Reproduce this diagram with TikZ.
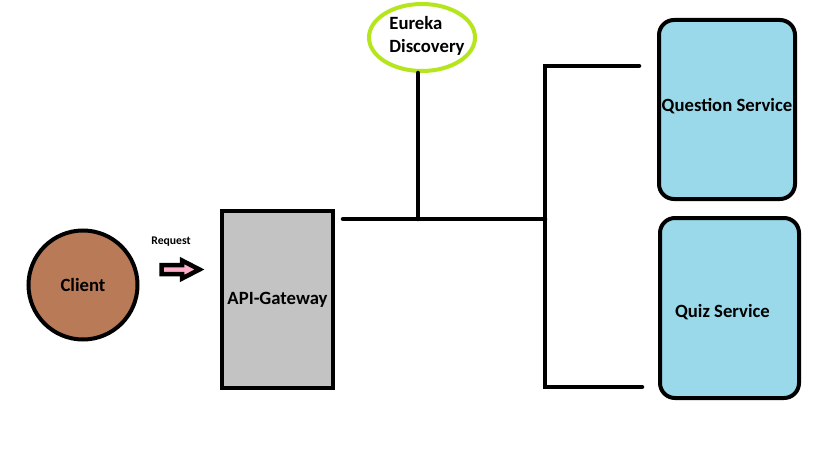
\documentclass[tikz,border=0pt]{standalone}
\usepackage{fontspec}
\setmainfont{Carlito}
\usetikzlibrary{shapes.geometric}
\definecolor{clientbrown}{HTML}{B97A57}
\definecolor{gwgray}{HTML}{C3C3C3}
\definecolor{svcblue}{HTML}{99D9EA}
\definecolor{eurgreen}{HTML}{B5E61D}
\definecolor{reqpink}{HTML}{FFAEC9}
\tikzset{
  lbl/.style={font=\fontsize{18.7}{23}\selectfont\bfseries, text=black},
  svcbox/.style={draw=black, line width=4pt, fill=svcblue, rounded corners=15pt, inner sep=0pt},
  wire/.style={draw=black, line width=4.5pt, line cap=round},
}
\begin{document}
\begin{tikzpicture}[x=1pt,y=-1pt]
\useasboundingbox (0,0) rectangle (819,460);
\fill[white] (0,0) rectangle (819,460);

% nodes
\node[circle, draw=black, line width=4pt, fill=clientbrown, minimum size=109pt, inner sep=0pt, lbl] (client) at (83,285) {Client};
\node[rectangle, draw=black, line width=4pt, fill=gwgray, minimum width=111pt, minimum height=177pt, inner sep=0pt, lbl] (gateway) at (277.5,299.5) {API-Gateway};
\node[ellipse, draw=eurgreen, line width=4pt, minimum width=106pt, minimum height=67pt, inner sep=0pt,
  label={[lbl, align=left, xshift=5pt, yshift=2pt]center:Eureka\\Discovery}] (eureka) at (422,37.5) {};
\node[svcbox, minimum width=136pt, minimum height=179pt,
  label={[lbl, yshift=3pt]center:Question Service}] (question) at (727,109.5) {};
\node[svcbox, minimum width=139pt, minimum height=180pt,
  label={[lbl, xshift=-7pt, yshift=-4pt]center:Quiz Service}] (quiz) at (729.5,308) {};

\node[font=\fontsize{11.7}{14}\selectfont\bfseries, text=black] (reqlbl) at (171,242) {Request};

% request arrow
\draw[black, line width=4.5pt, fill=reqpink, line join=miter]
  (161.5,265) -- (182,265) -- (182,260.5) -- (199.5,269.5) -- (182,278.5) -- (182,274) -- (161.5,274) -- cycle;

% junction coordinates
\coordinate (gwport) at (343,219);
\coordinate (jeur) at (418,219);
\coordinate (jtrunk) at (545,219);
\coordinate (ttop) at (545,66);
\coordinate (tbot) at (545,388);
\coordinate (qend) at (639,66);
\coordinate (zend) at (642,387);

% connectors
\draw[wire] (gwport) -- (jtrunk);
\draw[wire] (jeur) -- (jeur |- eureka.south);
\draw[wire, line join=miter] (qend) -- (ttop) -- (tbot |- zend) -- (zend);
\end{tikzpicture}
\end{document}
